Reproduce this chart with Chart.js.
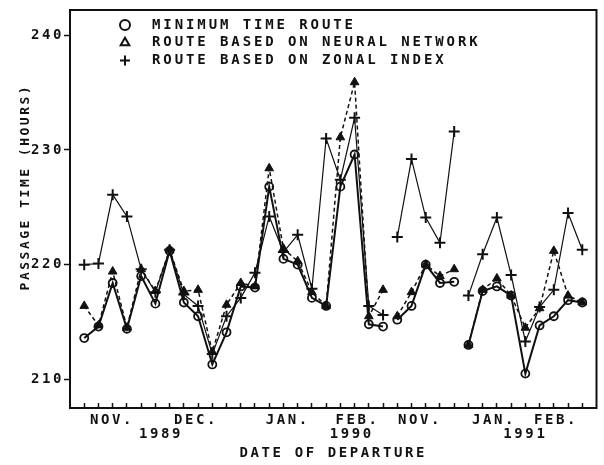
<!DOCTYPE html>
<html>
<head>
<meta charset="utf-8">
<script src="https://cdn.jsdelivr.net/npm/chart.js"></script>
<style>
  html, body { margin: 0; padding: 0; background: #fff; }
  #wrap { width: 604px; height: 465px; }
</style>
</head>
<body>
<div id="wrap"><canvas id="passage"></canvas></div>
<script>
// passage time (hours) for each departure
var minTime = [213.6, 214.6, 218.4, 214.4, 219.0, 216.6, 221.2, 216.7, 215.5, 211.3,
               214.1, 218.1, 218.0, 226.8, 220.5, 220.0, 217.1, 216.4, 226.8, 229.6,
               214.8, 214.6, 215.2, 216.4, 220.0, 218.4, 218.5, 213.0, 217.7, 218.1,
               217.3, 210.5, 214.7, 215.5, 216.9, 216.7];
var neuralNet = [216.4, 214.7, 219.4, 214.5, 219.6, 217.7, 221.3, 217.7, 217.8, 212.4,
                 216.5, 218.4, 218.1, 228.4, 221.4, 220.3, 217.6, 216.4, 231.1, 235.9,
                 215.5, 217.8, 215.5, 217.6, 220.0, 219.0, 219.6, 213.0, 217.8, 218.8,
                 217.3, 214.5, 216.2, 221.2, 217.3, 216.7];
var zonalIdx = [220.0, 220.1, 226.1, 224.2, 219.6, 217.6, 221.3, 217.4, 216.4, 212.2,
                215.5, 217.1, 219.3, 224.2, 221.1, 222.6, 217.9, 231.0, 227.4, 232.8,
                216.4, 215.6, 222.4, 229.2, 224.1, 221.9, 231.6, 217.3, 220.9, 224.1,
                219.1, 213.3, 216.3, 217.8, 224.5, 221.3];
var departure = minTime.map(function (v, i) { return i; });
var breakAfter = [21, 26]; // end of a winter: lines are not joined across

var monthLabels = ['NOV.', 'DEC.', 'JAN.', 'FEB.', 'NOV.', 'JAN.', 'FEB.'];
var monthAt = [1.95, 7.85, 14.3, 19.2, 23.6, 28.8, 33.15];
var yearLabels = ['1989', '1990', '1991'];
var yearAt = [5.4, 18.8, 31.0];
var hourTicks = [210, 220, 230, 240];

var ink = '#111';
var clear = 'rgba(0,0,0,0)';
var mono = 'DejaVu Sans Mono';

function gapColor(c) {
  return breakAfter.indexOf(c.p0DataIndex) >= 0 ? clear : ink;
}

function xTicks() {
  var t = departure.map(function (d) { return { value: d, text: '', mark: true }; });
  monthAt.forEach(function (p, i) { t.push({ value: p, text: monthLabels[i] }); });
  yearAt.forEach(function (p, i) { t.push({ value: p, text: ['', yearLabels[i]] }); });
  return t.sort(function (a, b) { return a.value - b.value; });
}

var decor = {
  id: 'decor',
  beforeDraw: function (chart) {
    chart.ctx.letterSpacing = '2.6px';
  },
  afterDraw: function (chart) {
    var ctx = chart.ctx, a = chart.chartArea;
    ctx.save();
    ctx.strokeStyle = ink;
    ctx.lineWidth = 2;
    ctx.strokeRect(a.left, a.top, a.right - a.left, a.bottom - a.top);

    // y title sits a bit above the middle of the axis
    ctx.fillStyle = ink;
    ctx.font = 'bold 13px "' + mono + '"';
    ctx.letterSpacing = '2.5px';
    ctx.textAlign = 'center';
    ctx.textBaseline = 'middle';
    ctx.translate(26, a.top + (a.bottom - a.top) * 0.445);
    ctx.rotate(-Math.PI / 2);
    ctx.fillText('PASSAGE TIME (HOURS)', 0, 0);
    ctx.restore();

    // legend inside the plot, top left
    ctx.save();
    ctx.font = 'bold 14px "' + mono + '"';
    ctx.letterSpacing = '2.9px';
    ctx.textAlign = 'left';
    ctx.textBaseline = 'middle';
    chart.data.datasets.forEach(function (ds, i) {
      var y = a.top + 15 + i * 17.8;
      ctx.fillStyle = '#fff';
      ctx.strokeStyle = ink;
      ctx.lineWidth = 2;
      Chart.helpers.drawPoint(ctx, { pointStyle: ds.pointStyle, radius: 5, borderWidth: 2 }, a.left + 55, y);
      ctx.fillStyle = ink;
      ctx.fillText(ds.label, a.left + 82, y);
    });
    ctx.restore();
  }
};

var ctx = document.getElementById('passage').getContext('2d');
var passageChart = new Chart(ctx, {
  type: 'line',
  data: {
    labels: departure,
    datasets: [{
      label: 'MINIMUM TIME ROUTE',
      data: minTime,
      borderColor: ink,
      borderWidth: 2,
      pointStyle: 'circle',
      pointRadius: 4,
      pointBorderWidth: 1.8,
      pointBackgroundColor: clear,
      pointBorderColor: ink,
      segment: { borderColor: gapColor }
    }, {
      label: 'ROUTE BASED ON NEURAL NETWORK',
      data: neuralNet,
      borderColor: ink,
      borderWidth: 1.5,
      borderDash: [4, 3],
      pointStyle: 'triangle',
      pointRadius: 5,
      pointBorderWidth: 1,
      pointBackgroundColor: ink,
      pointBorderColor: ink,
      segment: { borderColor: gapColor }
    }, {
      label: 'ROUTE BASED ON ZONAL INDEX',
      data: zonalIdx,
      borderColor: ink,
      borderWidth: 1.2,
      pointStyle: 'cross',
      pointRadius: 5.5,
      pointBorderWidth: 2,
      pointBorderColor: ink,
      segment: { borderColor: gapColor }
    }]
  },
  options: {
    responsive: true,
    maintainAspectRatio: false,
    animation: false,
    events: [],
    layout: { padding: { top: 10, right: 4, bottom: 0, left: 0 } },
    plugins: { legend: { display: false }, tooltip: { enabled: false } },
    scales: {
      x: {
        type: 'linear',
        min: -1,
        max: 36,
        border: { color: ink, width: 2 },
        grid: {
          drawOnChartArea: false,
          tickLength: -5,
          tickWidth: 1.5,
          tickColor: function (c) { return c.tick && c.tick.mark ? ink : clear; }
        },
        afterBuildTicks: function (scale) { scale.ticks = xTicks(); },
        afterFit: function (scale) { scale.height = 57; },
        ticks: {
          autoSkip: false,
          maxRotation: 0,
          padding: 10,
          color: ink,
          font: { family: mono, size: 14, weight: 'bold', lineHeight: 1 },
          callback: function (v, i, t) { return t[i].text; }
        },
        title: {
          display: true,
          text: 'DATE OF DEPARTURE',
          color: ink,
          font: { family: mono, size: 14, weight: 'bold' },
          padding: { top: 0, bottom: 3 }
        }
      },
      y: {
        min: 207.5,
        max: 242.2,
        border: { color: ink, width: 2 },
        grid: { drawOnChartArea: false, tickLength: 6, tickWidth: 1.5, tickColor: ink },
        afterBuildTicks: function (scale) {
          scale.ticks = hourTicks.map(function (h) { return { value: h }; });
        },
        afterFit: function (scale) { scale.width = 70; },
        ticks: {
          padding: 0,
          color: ink,
          font: { family: mono, size: 14, weight: 'bold' },
          callback: function (v) { return String(v); }
        }
      }
    }
  },
  plugins: [decor]
});
</script>
</body>
</html>
